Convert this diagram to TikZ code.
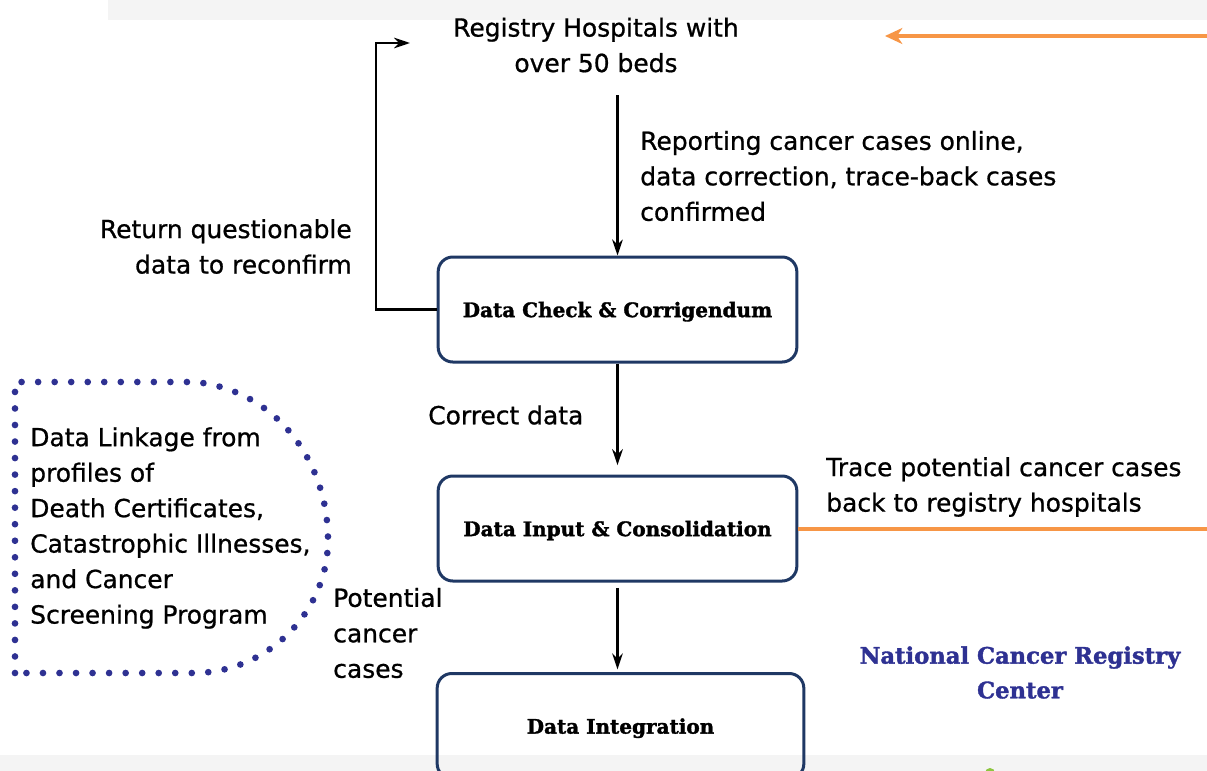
\documentclass[tikz,border=0pt]{standalone}
\usepackage{fontspec}
\setmainfont{DejaVu Sans}[FakeBold=0.8]
\newfontfamily\boxfont{DejaVu Serif}[BoldFeatures={FakeBold=1.6}]
\usetikzlibrary{arrows.meta}
\definecolor{boxnavy}{HTML}{1F3864}
\definecolor{dotblue}{HTML}{2E3192}
\definecolor{tracecol}{HTML}{F79646}
\definecolor{bandgray}{HTML}{F4F4F4}
\definecolor{logogreen}{HTML}{8DC63F}
\begin{document}
\begin{tikzpicture}[x=0.75pt,y=-0.75pt,
    txt/.style={font=\fontsize{18.7}{26.6}\selectfont,align=left,inner sep=0pt},
    stage/.style={draw=boxnavy,line width=2.25pt,rounded corners=11pt,
        minimum width=269pt,minimum height=78.75pt,text depth=0pt,
        font=\boxfont\bfseries\fontsize{15}{18}\selectfont},
    arr/.style={-{Stealth[length=12pt,width=8pt]},line width=1.6pt},
    orangelink/.style={tracecol,line width=3pt}]
    
    \useasboundingbox (0,0) rectangle (1207,771);
    
    % background bands
    \fill[bandgray] (108,0) rectangle (1207,20);
    \fill[bandgray] (0,755) rectangle (1207,771);
    \fill[logogreen] (990,773) circle (5);
    
    % stages
    \node[stage] (check) at (617.5,309.5) {Data Check \& Corrigendum};
    \node[stage] (input) at (617.5,528.5) {Data Input \& Consolidation};
    \node[stage,minimum width=275pt] (integ) at (620.5,726) {Data Integration};
    
    % labels
    \node[txt,align=center] (reg) at (596,45) {Registry Hospitals with\\over 50 beds};
    \node[txt,anchor=west] (report) at (640,176)
        {Reporting cancer cases online,\\data correction, trace-back cases\\confirmed};
    \node[txt,anchor=east,align=right] (ret) at (352,246.5)
        {Return questionable\\data to reconfirm};
    \node[txt,anchor=west] (corr) at (428,415) {Correct data};
    \node[txt,anchor=west] (trace) at (826,487)
        {Trace potential cancer cases\\back to registry hospitals};
    \node[txt,anchor=west] (pot) at (333,633) {Potential\\cancer\\cases};
    \node[txt,anchor=west] (link) at (30,528)
        {Data Linkage from\\profiles of\\Death Certificates,\\Catastrophic Illnesses,\\and Cancer\\Screening Program};
    \node[align=center,text=dotblue,font=\boxfont\bfseries\fontsize{17}{26}\selectfont]
        (ncrc) at (1020,672.5) {National Cancer Registry\\Center};
    
    % dotted linkage outline
    \draw[dotblue,line width=5pt,line cap=round,dash pattern=on 0pt off 12.4pt]
        (15,673) -- (15,382) -- (195,382)
        .. controls (275,390) and (328,460) .. (328,540)
        .. controls (328,610) and (270,672) .. (195,673) -- cycle;
    
    % flow
    \draw[arr,shorten <=17pt] (check.north |- reg.south) -- (check.north);
    \draw[arr,shorten >=7pt] (check.south) -- (input.north);
    \draw[arr,shorten <=4pt,shorten >=2pt] (input.south) -- (integ.north -| input.south);
    
    \coordinate (loopend) at (410,43);
    \draw[arr] (check.west) -- ++(-61,0) |- (loopend);
    
    % orange links
    \coordinate (topright) at (1207,36);
    \coordinate (topend) at (885,36);
    \coordinate (midright) at (1207,528.5);
    \draw[orangelink,-{Stealth[length=13pt,width=12pt,inset=4pt]}] (topright) -- (topend);
    \draw[orangelink] (input.east) -- (midright);
    
\end{tikzpicture}
\end{document}
